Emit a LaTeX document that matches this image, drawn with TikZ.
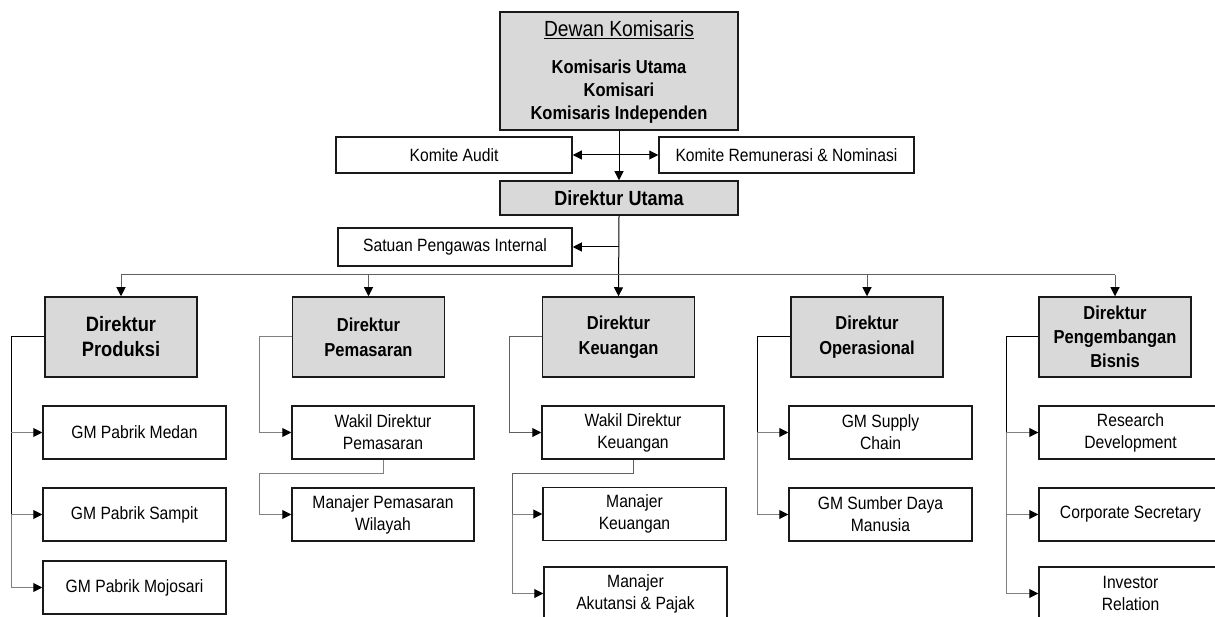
\documentclass[tikz,border=0pt]{standalone}
\usepackage{fontspec}
\setmainfont{Liberation Sans}[FakeStretch=0.88]
\usetikzlibrary{arrows.meta}
\definecolor{boxgray}{HTML}{D9D9D9}
\definecolor{edge}{HTML}{1A1A1A}
\definecolor{lgray}{HTML}{808080}
\definecolor{bgray}{HTML}{606060}
\begin{document}
\begin{tikzpicture}[x=1pt,y=-1pt,
  box/.style={draw=edge, line width=1.5pt, rectangle, inner sep=0pt, align=center, text=black},
  dirbox/.style={box, fill=boxgray, minimum width=152pt, minimum height=80pt, font=\bfseries\fontsize{18.75}{25}\selectfont},
  unitbox/.style={box, fill=white, minimum width=183pt, minimum height=53pt, font=\fontsize{17.8}{22}\selectfont},
  conn/.style={draw=black, line width=1pt},
  connG/.style={draw=lgray, line width=1pt},
  connB/.style={draw=bgray, line width=1pt},
  tip/.style={-{Triangle[length=9pt,width=9pt,color=black]}},
  txt/.style={anchor=base, text=black},
]
\path[use as bounding box] (0,0) rectangle (1215,617);

% ---- top ----
\node[box, fill=boxgray, minimum width=238pt, minimum height=118pt] (dewan) at (619,71) {};
\node[txt, font=\fontsize{21.9}{25}\selectfont] (dewanT) at (619,37) {\underline{Dewan Komisaris}};
\node[txt, font=\bfseries\fontsize{18.75}{22}\selectfont] (dewanA) at (619,74) {Komisaris Utama};
\node[txt, font=\bfseries\fontsize{18.75}{22}\selectfont] (dewanB) at (619,97) {Komisari};
\node[txt, font=\bfseries\fontsize{18.75}{22}\selectfont] (dewanC) at (619,120) {Komisaris Independen};

\node[unitbox, minimum width=236pt, minimum height=36pt] (audit) at (454,155) {Komite Audit};
\node[unitbox, minimum width=255pt, minimum height=36pt] (remun) at (786.5,155) {Komite Remunerasi \& Nominasi};
\node[box, fill=boxgray, minimum width=238pt, minimum height=34pt, font=\bfseries\fontsize{20.5}{24}\selectfont] (dirut) at (619,198) {Direktur Utama};
\node[unitbox, minimum width=234pt, minimum height=38pt] (spi) at (455,247) {Satuan Pengawas Internal};

% ---- directors ----
\node[dirbox, font=\bfseries\fontsize{20.8}{25}\selectfont] (prod) at (121,337) {Direktur\\Produksi};
\node[dirbox] (pem) at (368.5,337) {Direktur\\Pemasaran};
\node[dirbox] (keu) at (618.5,337) {Direktur\\Keuangan};
\node[dirbox] (ops) at (867,337) {Direktur\\Operasional};
\node[dirbox, font=\bfseries\fontsize{18.75}{24}\selectfont] (peng) at (1115,337) {Direktur\\Pengembangan\\Bisnis};

% ---- units ----
\node[unitbox] (gm1) at (134.5,432.5) {GM Pabrik Medan};
\node[unitbox] (gm2) at (134.5,514.5) {GM Pabrik Sampit};
\node[unitbox] (gm3) at (134.5,587.5) {GM Pabrik Mojosari};

\node[unitbox, minimum width=182pt] (wdp) at (383,432.5) {Wakil Direktur\\Pemasaran};
\node[unitbox, minimum width=182pt] (mpw) at (383,514.5) {Manajer Pemasaran\\Wilayah};

\node[unitbox, minimum width=182pt] (wdk) at (633,432.5) {Wakil Direktur\\Keuangan};
\node[unitbox] (mk) at (634.5,514) {Manajer\\Keuangan};
\node[unitbox] (mak) at (635.5,593.5) {Manajer\\Akutansi \& Pajak};

\node[unitbox] (sc) at (880.5,432.5) {GM Supply\\Chain};
\node[unitbox] (sdm) at (880.5,514.5) {GM Sumber Daya\\Manusia};

\node[unitbox] (rd) at (1130.5,432.5) {Research\\Development};
\node[unitbox] (cs) at (1130.5,514.5) {Corporate Secretary};
\node[unitbox] (ir) at (1130.5,593.5) {Investor\\Relation};

% ---- top connectors ----
\coordinate (k) at (619,155);
\coordinate (b) at (619,275);
\coordinate (bl) at (121,275);
\coordinate (br) at (1115,275);
\draw[conn, tip] (dewan.south) -- (dirut.north);
\draw[conn, tip] (k) -- (audit.east);
\draw[conn, tip] (k) -- (remun.west);
\draw[conn, tip] (dirut.south) -- (keu.north);
\draw[conn, tip] (dirut.south |- spi.east) -- (spi.east);
\draw[connB] (bl) -- (br);
\draw[connB, tip] (bl) -- (prod.north);
\draw[connB, tip] (pem.north |- b) -- (pem.north);
\draw[connB, tip] (ops.north |- b) -- (ops.north);
\draw[connB, tip] (br) -- (peng.north);

% ---- column 1 ----
\coordinate (p1) at (11,0);
\draw[conn] (prod.west) -- (p1 |- prod.west) -- (p1 |- gm2.west);
\draw[connG] (p1 |- gm2.west) -- (p1 |- gm3.west);
\draw[connG, tip] (p1 |- gm1.west) -- (gm1.west);
\draw[connG, tip] (p1 |- gm2.west) -- (gm2.west);
\draw[connG, tip] (p1 |- gm3.west) -- (gm3.west);

% ---- column 2 ----
\coordinate (p2) at (259,0);
\coordinate (q2) at (259,473);
\draw[connG, tip] (pem.west) -- (p2 |- pem.west) -- (p2 |- wdp.west) -- (wdp.west);
\draw[connG, tip] (wdp.south) |- (q2) |- (mpw.west);

% ---- column 3 ----
\coordinate (p3) at (509,0);
\coordinate (q3) at (512,473);
\draw[connB, tip] (keu.west) -- (p3 |- keu.west) -- (p3 |- wdk.west) -- (wdk.west);
\draw[connB] (wdk.south) |- (q3) -- (q3 |- mk.west);
\draw[connG] (q3 |- mk.west) -- (q3 |- mak.west);
\draw[connG, tip] (q3 |- mk.west) -- (mk.west);
\draw[connG, tip] (q3 |- mak.west) -- (mak.west);

% ---- column 4 ----
\coordinate (p4) at (757,0);
\draw[conn] (ops.west) -- (p4 |- ops.west) -- (p4 |- sc.west);
\draw[connG] (p4 |- sc.west) -- (p4 |- sdm.west);
\draw[connG, tip] (p4 |- sc.west) -- (sc.west);
\draw[connG, tip] (p4 |- sdm.west) -- (sdm.west);

% ---- column 5 ----
\coordinate (p5) at (1006,0);
\draw[conn] (peng.west) -- (p5 |- peng.west) -- (p5 |- rd.west);
\draw[connG] (p5 |- rd.west) -- (p5 |- ir.west);
\draw[connG, tip] (p5 |- rd.west) -- (rd.west);
\draw[connG, tip] (p5 |- cs.west) -- (cs.west);
\draw[connG, tip] (p5 |- ir.west) -- (ir.west);
\end{tikzpicture}
\end{document}
